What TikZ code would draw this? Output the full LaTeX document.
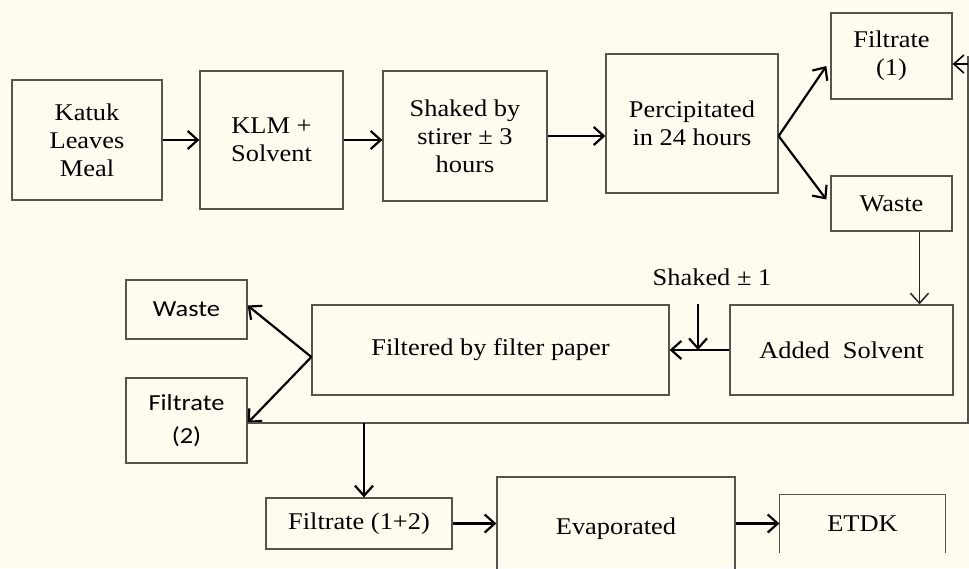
\documentclass[tikz,border=0pt]{standalone}
\usepackage{fontspec}
\setmainfont{Liberation Serif}[FakeStretch=1.1]
\newfontfamily\boxsans{Carlito}[FakeStretch=1.15]
\usetikzlibrary{arrows.meta,positioning}
\definecolor{paper}{RGB}{255,253,240}
\definecolor{edge}{RGB}{85,85,75}

\begin{document}
\begin{tikzpicture}[x=1pt,y=-1pt]
\tikzset{
  stepbox/.style={rectangle,draw=edge,line width=1.3pt,inner sep=2pt,align=center,font=\fontsize{24}{28}\selectfont},
  sidebox/.style={stepbox,font=\boxsans\fontsize{23}{33}\selectfont},
  flow/.style={draw=black,line width=2.2pt,-{Straight Barb[length=10pt,width=18pt]}},
  thinflow/.style={draw=black!85,line width=1.5pt,-{Straight Barb[length=10pt,width=18pt]}},
  loopline/.style={draw=edge,line width=1.3pt}
}
\fill[paper] (0,0) rectangle (969,568);
\useasboundingbox (0,0) rectangle (969,568);
\clip (0,0) rectangle (969,568);
\node[stepbox,minimum width=150pt,minimum height=120pt] (n_katuk) at (87,140) {Katuk\\Leaves\\Meal};
\node[stepbox,minimum width=143pt,minimum height=138pt] (n_klm) at (271.5,140) {KLM +\\Solvent};
\node[stepbox,minimum width=164pt,minimum height=130pt] (n_stir) at (465,136) {Shaked by\\stirer ± 3\\hours};
\node[stepbox,minimum width=172pt,minimum height=139pt] (n_precip) at (692,123.5) {Percipitated\\in 24 hours};
\node[stepbox,minimum width=121pt,minimum height=86pt] (n_filt1) at (891.5,56) {Filtrate\\(1)};
\node[stepbox,minimum width=121pt,minimum height=55pt] (n_waste1) at (891.5,203.5) {Waste};
\node[stepbox,minimum width=223pt,minimum height=90pt] (n_added) at (841.5,350) {Added~ Solvent};
\node[stepbox,minimum width=357pt,minimum height=90pt] (n_filtered) at (490.5,350) {Filtered by filter paper};
\node (n_shake) at (712,277) {\fontsize{24}{28}\selectfont Shaked ± 1};
\node[sidebox,minimum width=121pt,minimum height=59pt] (n_waste2) at (186.5,309.5) {Waste};
\node[sidebox,minimum width=121pt,minimum height=85pt] (n_filt2) at (186.5,420.5) {Filtrate\\(2)};
\node[stepbox,minimum width=186pt,minimum height=51pt] (n_filt12) at (359,523.5) {Filtrate (1+2)};
\node[stepbox,minimum width=238pt,minimum height=103pt] (n_evap) at (616,528.5) {Evaporated};
\node[stepbox,draw=none,minimum width=165pt,minimum height=57pt] (n_etdk) at (862.5,523.5) {ETDK};
\coordinate (c_loop) at (968,423);
\draw[draw=edge,line width=1.3pt] (n_etdk.south west) -- (n_etdk.north west) -- (n_etdk.north east) -- (n_etdk.south east);
\draw[flow] (n_katuk.east) -- (n_klm.west);
\draw[flow] (n_klm.east) -- (n_klm.east -| n_stir.west);
\draw[flow] (n_stir.east) -- (n_stir.east -| n_precip.west);
\draw[flow] (n_precip.east |- n_stir.east) -- ([shift={(-4,10)}]n_filt1.west);
\draw[flow] (n_precip.east |- n_stir.east) -- ([shift={(-4,-4)}]n_waste1.west);
\draw[thinflow] ([xshift=28pt]n_waste1.south) -- ([xshift=28pt]n_waste1.south |- n_added.north);
\draw[flow] (n_added.west) -- (n_filtered.east);
\draw[flow] ([xshift=-14pt]n_shake.south |- n_filtered.north) -- ([xshift=-14pt]n_shake.south |- n_filtered.east);
\draw[flow] ([yshift=-7pt]n_filtered.west) -- ([yshift=4pt]n_waste2.east);
\draw[flow] ([yshift=-7pt]n_filtered.west) -- ([yshift=-2.5pt]n_filt2.east);
\draw[loopline] ([yshift=-2.5pt]n_filt2.east) -- (c_loop) -- (c_loop |- n_filt1.east);
\draw[flow,line width=1.6pt] (c_loop |- n_filt1.east) ++(0,8) -- ([yshift=-8pt]n_filt1.east);
\draw[flow] ([xshift=5pt]n_filt12.north |- c_loop) -- ([xshift=5pt]n_filt12.north);
\draw[flow] (n_filt12.east) -- (n_evap.west |- n_filt12.east);
\draw[flow] (n_evap.east |- n_etdk.west) -- (n_etdk.west);
\end{tikzpicture}
\end{document}
